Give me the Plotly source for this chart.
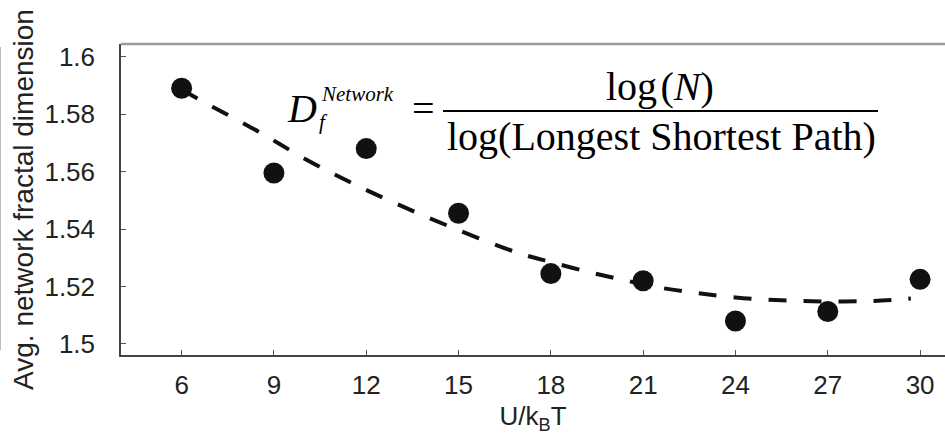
import plotly.graph_objects as go

# Interaction strength U/kBT and the measured average network fractal dimension
u_values = [6, 9, 12, 15, 18, 21, 24, 27, 30]
fractal_dim = [1.589, 1.5595, 1.568, 1.5455, 1.5245, 1.522, 1.508, 1.5113, 1.5225]

# Trend curve through the measurements
trend_u = [6, 7, 8.5, 10, 11.5, 13, 14.8, 16.9, 18, 19.25, 20.4, 21.5, 22.7,
           24, 25.5, 27, 28.5, 29.7]
trend_dim = [1.5885, 1.5826, 1.5739, 1.5645, 1.5562, 1.5487, 1.5405, 1.5318,
             1.5285, 1.5250, 1.5222, 1.5197, 1.5178, 1.5162, 1.5152, 1.5148,
             1.5150, 1.5158]

x_ticks = [6, 9, 12, 15, 18, 21, 24, 27, 30]
y_ticks = [1.5, 1.52, 1.54, 1.56, 1.58, 1.6]
y_tick_text = ["1.5", "1.52", "1.54", "1.56", "1.58", "1.6"]

W, H = 945, 441
ML, MR, MT, MB = 121, 0, 44, 86
PW, PH = W - ML - MR, H - MT - MB


def px(x):
    return (x - ML) / PW


def py(y):
    return (H - MB - y) / PH


SANS = "Liberation Sans, Arial, sans-serif"
SERIF = "Liberation Serif, Times New Roman, serif"
INK = "#111111"
TEXT = "#222222"

fig = go.Figure()
fig.add_trace(go.Scatter(
    x=trend_u, y=trend_dim, mode="lines", line_shape="spline",
    line=dict(color=INK, width=4, dash="18px,17px"),
    hoverinfo="skip", showlegend=False,
))
fig.add_trace(go.Scatter(
    x=u_values, y=fractal_dim, mode="markers",
    marker=dict(color=INK, size=21, line=dict(width=0)),
    showlegend=False,
))

axis_common = dict(
    showgrid=False, zeroline=False, showline=True,
    linecolor="#444444", linewidth=1.5,
    ticks="inside", ticklen=5, tickwidth=1, tickcolor="#555555",
    tickfont=dict(family=SANS, size=26, color=TEXT),
)

fig.update_layout(
    width=W, height=H,
    margin=dict(l=ML, r=MR, t=MT, b=MB, pad=0),
    paper_bgcolor="white", plot_bgcolor="white",
    xaxis=dict(
        range=[4.03, 30.81], tickvals=x_ticks, ticklabelstandoff=6,
        title=dict(text="U/k<sub>B</sub>T", standoff=8,
                   font=dict(family=SANS, size=26, color=TEXT)),
        **axis_common,
    ),
    yaxis=dict(
        range=[1.49617, 1.6044], tickvals=y_ticks, ticktext=y_tick_text,
        ticklabelstandoff=19,
        title=dict(text="Avg. network fractal dimension", standoff=3,
                   font=dict(family=SANS, size=28, color=TEXT)),
        **axis_common,
    ),
    showlegend=False,
)

# Frame: grey top border and faint line at the far left edge
fig.add_shape(type="line", xref="paper", yref="paper", x0=0, x1=1, y0=1, y1=1,
              line=dict(color="#9b9b9b", width=2.5))
fig.add_shape(type="line", xref="paper", yref="paper",
              x0=px(0.5), x1=px(0.5), y0=py(350), y1=py(47),
              line=dict(color="#bdbdbd", width=1))

# Formula: D_f^Network = log(N) / log(Longest Shortest Path)
eq_font = dict(family=SERIF, size=40, color="#000000")
small_font = dict(family=SERIF, size=21, color="#000000")


def label(text, x, y, font, xanchor="center"):
    fig.add_annotation(text=text, x=px(x), y=py(y), xref="paper", yref="paper",
                       xanchor=xanchor, yanchor="middle", showarrow=False,
                       font=font, borderpad=0)


label("<i>D</i>", 286, 108.5, eq_font, xanchor="left")
label("<i>Network</i>", 320, 94, small_font, xanchor="left")
label("<i>f</i>", 318, 122, small_font, xanchor="left")
label("=", 423, 108.5, eq_font)
label("log\u200a(<i>N</i>)", 660, 86.5, eq_font)
label("log(Longest Shortest Path)", 661, 136.5, eq_font)
fig.add_shape(type="line", xref="paper", yref="paper",
              x0=px(443), x1=px(878), y0=py(111), y1=py(111),
              line=dict(color="#000000", width=2))

fig.write_html("out.html")
